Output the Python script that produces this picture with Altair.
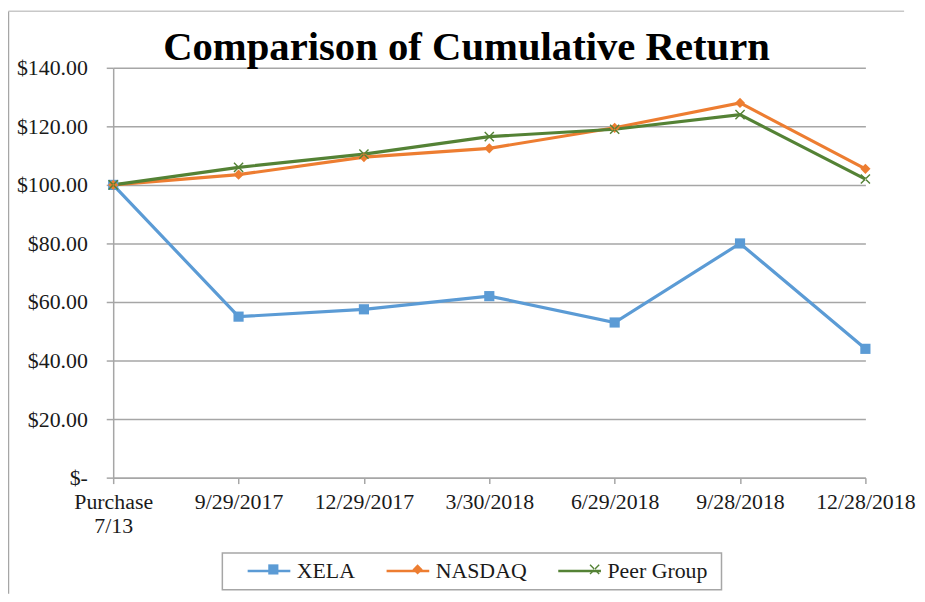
import altair as alt
import pandas as pd

# ---- data ----
title_text = "Comparison of Cumulative Return"
dates = ["Purchase\n7/13", "9/29/2017", "12/29/2017", "3/30/2018",
         "6/29/2018", "9/28/2018", "12/28/2018"]
series_names = ["XELA", "NASDAQ", "Peer Group"]
xela = [100, 55, 57.5, 62, 53, 80, 44]
nasdaq = [100, 103.5, 109.5, 112.5, 119.5, 128, 105.5]
peer = [100, 106, 110.5, 116.5, 119, 124, 102]
y_ticks = [0, 20, 40, 60, 80, 100, 120, 140]
colors = ["#5B9BD5", "#ED7D31", "#548235"]

marker_keys = [n + "#" for n in series_names]
rows = []
for name, key, vals in zip(series_names, marker_keys, [xela, nasdaq, peer]):
    for d, v in zip(dates, vals):
        rows.append({"date": d, "series": name, "marker": key, "value": v})
df = pd.DataFrame(rows)

FONT = "Liberation Serif"
GRAY = "#A6A6A6"
TXT = "#1a1a1a"

x_xpath = "M-1,-0.8L-0.8,-1L1,0.8L0.8,1Z M-1,0.8L-0.8,1L1,-0.8L0.8,-1Z"

x_enc = alt.X(
    "date:N", sort=dates,
    scale=alt.Scale(type="point", padding=0),
    axis=alt.Axis(
        title=None, labelAngle=0, labelExpr="split(datum.label, '\\n')",
        labelFont=FONT, labelFontSize=22, labelColor=TXT,
        labelPadding=8, labelLineHeight=24, labelOverlap=False,
        tickSize=6, tickColor=GRAY, tickWidth=1.5,
        domainColor=GRAY, domainWidth=1.5, grid=False,
    ),
)
y_enc = alt.Y(
    "value:Q",
    scale=alt.Scale(domain=[0, 140], nice=False),
    axis=alt.Axis(
        title=None, values=y_ticks,
        labelExpr="datum.value == 0 ? '$-\u00a0\u00a0' : '$' + format(datum.value, '.2f')",
        labelFont=FONT, labelFontSize=22, labelColor=TXT,
        labelPadding=19, tickSize=7, tickColor=GRAY, tickWidth=1.5,
        domainColor=GRAY, domainWidth=1.5,
        grid=True, gridColor=GRAY, gridWidth=1.5,
    ),
)

LEG_CENTER_Y = 505.5
LEG_X = 134
MARK_SIZE = 105
MARK_W = MARK_SIZE ** 0.5

lines = alt.Chart(df).mark_line(strokeWidth=3.2).encode(
    x=x_enc, y=y_enc,
    color=alt.Color(
        "series:N", scale=alt.Scale(domain=series_names, range=colors),
        sort=series_names,
        legend=alt.Legend(
            title=None, orient="none", direction="horizontal",
            legendX=LEG_X, legendY=LEG_CENTER_Y - 21.5, padding=0,
            labelFont=FONT, labelFontSize=22, labelColor=TXT,
            symbolType="stroke", symbolSize=1849, symbolStrokeWidth=2.5,
            labelOffset=5, columnPadding=26, zindex=1,
        ),
    ),
)

pt_legend = alt.Legend(
    title=None, orient="none", direction="horizontal",
    legendX=LEG_X + (43 - MARK_W) / 2, legendY=LEG_CENTER_Y - 11, padding=0,
    labelFont=FONT, labelFontSize=22, labelOpacity=0,
    labelExpr="replace(datum.label, '#', '')",
    symbolSize=MARK_SIZE, symbolStrokeWidth=0, symbolOpacity=1,
    labelOffset=5 + (43 - MARK_W) / 2, columnPadding=26 + (43 - MARK_W) / 2,
    zindex=2,
)

points = alt.Chart(df).mark_point(filled=True, size=MARK_SIZE, opacity=1).encode(
    x=x_enc, y=y_enc,
    fill=alt.Fill(
        "marker:N", scale=alt.Scale(domain=marker_keys, range=colors),
        sort=marker_keys, legend=pt_legend,
    ),
    shape=alt.Shape(
        "marker:N", sort=marker_keys,
        scale=alt.Scale(domain=marker_keys, range=["square", "diamond", x_xpath]),
        legend=pt_legend,
    ),
)

deco_df = pd.DataFrame({"k": [0]})
deco = alt.Chart(deco_df)
left_border = deco.mark_rule(color=GRAY, strokeWidth=1.5).encode(
    x=alt.value(-105.5), y=alt.value(-57), y2=alt.value(530))
top_border = deco.mark_rule(color="#C8C8C8", strokeWidth=1.5).encode(
    x=alt.value(-105.5), x2=alt.value(797), y=alt.value(-57))
legend_box = deco.mark_rect(fillOpacity=0, stroke=GRAY, strokeWidth=1.5).encode(
    x=alt.value(110), x2=alt.value(613), y=alt.value(489), y2=alt.value(526))
title = deco.mark_text(
    font=FONT, fontSize=41, fontWeight="bold", color="black",
    align="center", baseline="alphabetic",
).encode(x=alt.value(356), y=alt.value(-8), text=alt.value(title_text))

chart = alt.layer(left_border, top_border, legend_box, title, lines, points).properties(
    width=758, height=413,
    padding={"left": 106, "top": 58, "right": 52, "bottom": 115},
    autosize=alt.AutoSizeParams(type="none"),
    background="white",
).configure_view(stroke=None)

chart.save("out.html", embed_options={"renderer": "svg", "actions": False})
